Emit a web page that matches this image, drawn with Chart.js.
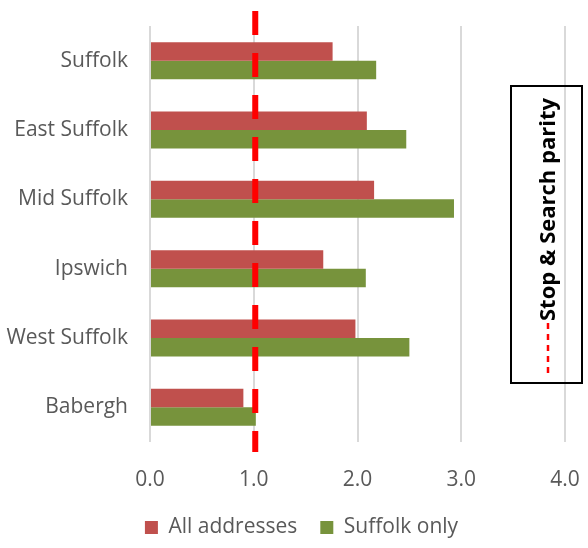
<!DOCTYPE html>
<html>
<head>
<meta charset="utf-8">
<script src="https://cdn.jsdelivr.net/npm/chart.js@4"></script>
<style>
html,body{margin:0;padding:0;background:#fff;}
#wrap{width:588px;height:548px;position:relative;}
</style>
</head>
<body>
<div id="wrap"><canvas id="c" width="588" height="548"></canvas></div>
<script>
const categories = ["Suffolk", "East Suffolk", "Mid Suffolk", "Ipswich", "West Suffolk", "Babergh"];
const allAddresses = [1.76, 2.09, 2.16, 1.67, 1.98, 0.90];
const suffolkOnly = [2.18, 2.47, 2.93, 2.08, 2.50, 1.02];
const seriesNames = ["All addresses", "Suffolk only"];
const xTicks = [0, 1, 2, 3, 4];
const parityValue = 1.0;
const parityLabel = "Stop & Search parity";

const FONT = "'Open Sans', 'DejaVu Sans', sans-serif";
const GREY = "#595959";

const legendShift = {
  id: 'legendShift',
  afterLayout(chart) {
    if (chart.legend) { chart.legend.left += 19; chart.legend.right += 19; }
  }
};

const parityPlugin = {
  id: 'parity',
  afterDatasetsDraw(chart) {
    const ctx = chart.ctx;
    const xs = chart.scales.x;
    const area = chart.chartArea;
    const x = xs.getPixelForValue(parityValue) + 1.5;
    ctx.save();
    ctx.strokeStyle = '#FF0000';
    ctx.lineWidth = 6;
    ctx.setLineDash([24, 18]);
    ctx.beginPath();
    ctx.moveTo(x, area.top - 15);
    ctx.lineTo(x, area.bottom + 10);
    ctx.stroke();
    ctx.restore();
  },
  afterDraw(chart) {
    const ctx = chart.ctx;
    ctx.save();
    ctx.strokeStyle = '#000';
    ctx.lineWidth = 2;
    ctx.strokeRect(511, 86, 71, 297);
    ctx.strokeStyle = '#FF0000';
    ctx.lineWidth = 2.5;
    ctx.setLineDash([6, 5]);
    ctx.beginPath();
    ctx.moveTo(548, 373);
    ctx.lineTo(548, 322);
    ctx.stroke();
    ctx.setLineDash([]);
    ctx.translate(549, 321);
    ctx.rotate(-Math.PI / 2);
    ctx.fillStyle = '#000';
    ctx.font = "bold 22px " + FONT;
    ctx.textAlign = 'left';
    ctx.textBaseline = 'middle';
    ctx.fillText(parityLabel, 0, 0);
    ctx.restore();
  }
};

new Chart(document.getElementById('c'), {
  type: 'bar',
  data: {
    labels: categories,
    datasets: [
      { label: seriesNames[0], data: allAddresses, backgroundColor: '#C0504D', borderWidth: 0,
        categoryPercentage: 0.533, barPercentage: 1.0 },
      { label: seriesNames[1], data: suffolkOnly, backgroundColor: '#77933C', borderWidth: 0,
        categoryPercentage: 0.533, barPercentage: 1.0 }
    ]
  },
  options: {
    indexAxis: 'y',
    responsive: false,
    animation: false,
    devicePixelRatio: 1,
    layout: { padding: { top: 26, right: 23, left: 0, bottom: 0 } },
    scales: {
      x: {
        min: 0, max: 4,
        afterBuildTicks(s) { s.ticks = xTicks.map(v => ({ value: v })); },
        grid: { color: '#D9D9D9', lineWidth: 2, drawTicks: false },
        border: { display: false },
        ticks: {
          font: { family: FONT, size: 21 }, color: GREY, padding: 25, maxRotation: 0,
          callback: (v) => Number(v).toFixed(1)
        },
        afterFit(s) { s.height = 52; s.paddingLeft = 0; s.paddingRight = 0; }
      },
      y: {
        grid: { display: false, drawTicks: false },
        border: { display: false },
        ticks: { font: { family: FONT, size: 21 }, color: GREY, padding: 22 },
        afterFit(s) { s.width = 150; s.paddingTop = 0; s.paddingBottom = 0; }
      }
    },
    plugins: {
      legend: {
        position: 'bottom',
        labels: {
          font: { family: FONT, size: 21 }, color: GREY,
          boxWidth: 13, boxHeight: 13, padding: 23
        }
      },
      tooltip: { enabled: false }
    }
  },
  plugins: [parityPlugin, legendShift]
});
</script>
</body>
</html>
